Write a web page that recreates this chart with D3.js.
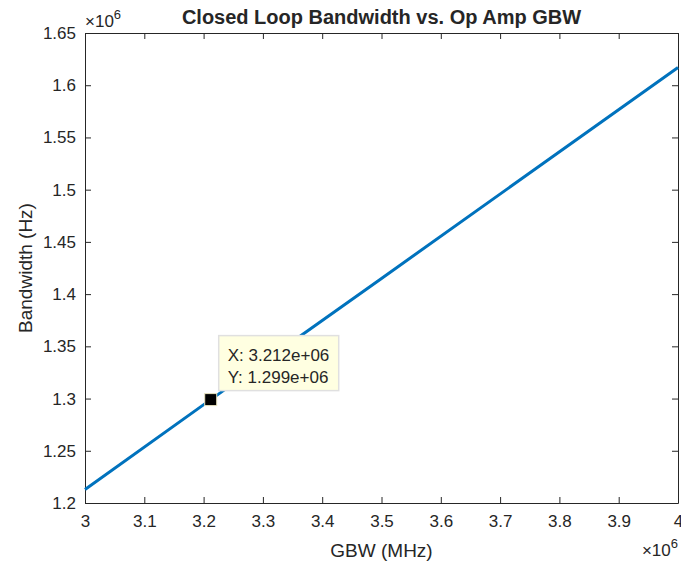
<!DOCTYPE html>
<html>
<head>
<meta charset="utf-8">
<script src="https://cdn.jsdelivr.net/npm/d3@7"></script>
<style>
  body { margin: 0; background: #fff; }
  text { font-family: "Liberation Sans", Arial, sans-serif; fill: #262626; }
</style>
</head>
<body>
<script>
// data
var gbw = [3.0e6, 3.212e6, 3.5e6, 4.0e6];
var bandwidth = [1.213e6, 1.299e6, 1.415e6, 1.617e6];
var xTicks = [3.0, 3.1, 3.2, 3.3, 3.4, 3.5, 3.6, 3.7, 3.8, 3.9, 4.0];
var yTicks = [1.2, 1.25, 1.3, 1.35, 1.4, 1.45, 1.5, 1.55, 1.6, 1.65];
var tipPoint = [3.212e6, 1.299e6];
var tipLabels = ["X: 3.212e+06", "Y: 1.299e+06"];

var W = 681, H = 563;
var margin = {top: 33, right: 3, bottom: 60, left: 85},
    width = W - margin.left - margin.right,
    height = H - margin.top - margin.bottom;

var svg = d3.select("body").append("svg")
    .attr("width", W).attr("height", H)
  .append("g")
    .attr("transform", "translate(" + margin.left + "," + margin.top + ")");

var x = d3.scaleLinear().domain([3e6, 4e6]).range([0, width]);
var y = d3.scaleLinear().domain([1.2e6, 1.65e6]).range([height, 0]);

var axisColor = "#262626";
var xt = xTicks.map(function(d) { return d * 1e6; });
var yt = yTicks.map(function(d) { return d * 1e6; });
var fmt = function(d) { return d3.format("~g")(d / 1e6); };

// axes, ticks pointing inward, box around
var gx = svg.append("g").attr("transform", "translate(0," + height + ")")
  .call(d3.axisBottom(x).tickValues(xt).tickFormat(fmt)
    .tickSizeInner(-6).tickSizeOuter(0).tickPadding(12));
var gy = svg.append("g")
  .call(d3.axisLeft(y).tickValues(yt).tickFormat(fmt)
    .tickSizeInner(-6).tickSizeOuter(0).tickPadding(9));
var gxt = svg.append("g")
  .call(d3.axisTop(x).tickValues(xt).tickFormat("").tickSizeInner(-6).tickSizeOuter(0));
var gyr = svg.append("g").attr("transform", "translate(" + width + ",0)")
  .call(d3.axisRight(y).tickValues(yt).tickFormat("").tickSizeInner(-6).tickSizeOuter(0));

[gx, gy, gxt, gyr].forEach(function(g) {
  g.select(".domain").attr("stroke", axisColor).attr("stroke-width", 1);
  g.selectAll(".tick line").attr("stroke", axisColor);
  g.selectAll(".tick text").style("font-size", "17px").attr("fill", axisColor)
    .style("font-family", "'Liberation Sans', Arial, sans-serif");
});

// line
var pts = gbw.map(function(d, i) { return [x(d), y(bandwidth[i])]; });
svg.append("path")
  .attr("d", d3.line()(pts))
  .attr("fill", "none")
  .attr("stroke", "#0072BD")
  .attr("stroke-width", 3);

// data tip
var tx = x(tipPoint[0]), ty = y(tipPoint[1]);
svg.append("rect")
  .attr("x", tx - 6).attr("y", ty - 6).attr("width", 12).attr("height", 12)
  .attr("fill", "#000").attr("stroke", "#e8e3c0").attr("stroke-width", 1);

svg.append("rect")
  .attr("x", tx + 8).attr("y", ty - 64).attr("width", 120).attr("height", 55)
  .attr("fill", "#ffffe1").attr("stroke", "#e0e0e0").attr("stroke-width", 1.5);

svg.selectAll(".tip").data(tipLabels).enter().append("text")
  .attr("x", tx + 17)
  .attr("y", function(d, i) { return ty - 39 + i * 22; })
  .style("font-size", "17px")
  .text(function(d) { return d; });

// labels
svg.append("text")
  .attr("x", width / 2).attr("y", -9)
  .attr("text-anchor", "middle")
  .style("font-size", "20px").style("font-weight", "bold")
  .attr("fill", "#000")
  .text("Closed Loop Bandwidth vs. Op Amp GBW");

svg.append("text")
  .attr("x", width / 2).attr("y", height + 54)
  .attr("text-anchor", "middle")
  .style("font-size", "19px")
  .text("GBW (MHz)");

svg.append("text")
  .attr("transform", "translate(" + (-53) + "," + (height / 2) + ") rotate(-90)")
  .attr("text-anchor", "middle")
  .style("font-size", "19px")
  .text("Bandwidth (Hz)");

// exponent labels
var expTop = svg.append("text").attr("x", 0).attr("y", -6).style("font-size", "17px");
expTop.append("tspan").text("\u00d710");
expTop.append("tspan").attr("dy", -8).style("font-size", "13px").text("6");

var expBot = svg.append("text").attr("x", width).attr("y", height + 53)
  .attr("text-anchor", "end").style("font-size", "17px");
expBot.append("tspan").text("\u00d710");
expBot.append("tspan").attr("dy", -8).style("font-size", "13px").text("6");
</script>
</body>
</html>
